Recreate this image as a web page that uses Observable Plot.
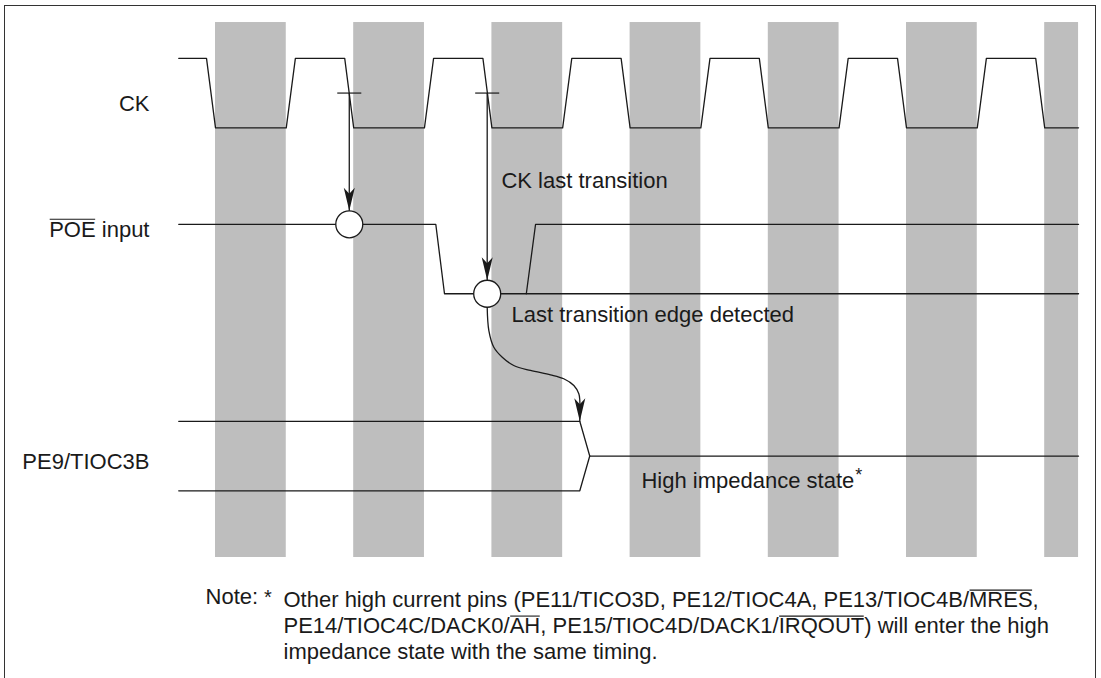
<!DOCTYPE html>
<html><head><meta charset="utf-8">
<script src="https://cdn.jsdelivr.net/npm/d3@7"></script>
<script src="https://cdn.jsdelivr.net/npm/@observablehq/plot@0.6"></script>
<style>
html,body{margin:0;padding:0;background:#fff;overflow:hidden;}
#chart{position:absolute;left:0;top:0;}
#frame{position:absolute;left:4px;top:5px;width:1092px;height:720px;border:1px solid #333;border-bottom:none;box-sizing:border-box;pointer-events:none;}
</style></head><body>
<div id="chart"></div><div id="frame"></div>
<script>
// ---------- data (time in CK cycles, t = 0 at end of first CK falling edge; levels 0/1) ----------
const ckTime  = [-0.266,-0.065,0,0.512,0.578,0.935,1,1.512,1.578,1.935,2,2.512,2.578,2.935,3,3.512,3.578,3.935,4,4.512,4.578,4.935,5,5.512,5.578,5.935,6,6.245];
const ckLevel = [1,1,0,0,1,1,0,0,1,1,0,0,1,1,0,0,1,1,0,0,1,1,0,0,1,1,0,0];
const lowPhaseStart = [0,1,2,3,4,5,6];
const lowPhaseEnd   = [0.512,1.512,2.512,3.512,4.512,5.512,6.245];
const poeTime  = [-0.266,1.594,1.657,6.245];
const poeLevel = [1,1,0,0];
const poeRiseTime  = [2.249,2.316,6.245];
const poeRiseLevel = [0,1,1];
const pe9UpperTime  = [-0.266,2.636,2.708,6.245];
const pe9UpperLevel = [1,1,0.5,0.5];
const pe9LowerTime  = [-0.266,2.636,2.708];
const pe9LowerLevel = [0,0,0.5];
const sampleTime  = [0.968,1.966];   // CK last-transition sampling instants
const sampleLevel = [1,0];           // POE level sampled
const signalNames = ["CK","POE input","PE9/TIOC3B"];
// detection path (absolute vertical units)
const pathTime = [1.966,1.978,2.014,2.075,2.158,2.279,2.424,2.520,2.593,2.629,2.636,2.636];
const pathU    = [2.642,2.306,2.066,1.922,1.803,1.731,1.669,1.612,1.515,1.396,1.300,1.0];
const annoText = ["CK last transition","Last transition edge detected","High impedance state*"];
const annoTime = [2.069,2.142,3.082];
const annoU    = [4.36,2.426,0.047];
const noteLines = [
  "Other high current pins (PE11/TICO3D, PE12/TIOC4A, PE13/TIOC4B/MRES,",
  "PE14/TIOC4C/DACK0/AH, PE15/TIOC4D/DACK1/IRQOUT) will enter the high",
  "impedance state with the same timing."
];
const overlined = ["POE","MRES","AH","IRQOUT"];

// ---------- layout ----------
const row = {CK: 5.223, POE: 2.835, PE9: 0};
const labelU = [5.472, 3.659, 0.317];
const labelT = -0.4776;
const bandTop = 6.738, bandBottom = -0.960;
const tickHalf = 0.087, circleR = 13.5;
const noteT = 0.492, noteLabelT = -0.072, noteStarT = 0.38, noteTopU = -1.412, noteBaseU = -1.636;
const ink = "#1a1a1a";
const FONT = 22;

const toPts = (T, L, base, id) => T.map((t, i) => ({t, u: base + L[i], id}));
const signals = [
  ...toPts(ckTime, ckLevel, row.CK, "ck"),
  ...toPts(poeTime, poeLevel, row.POE, "poe"),
  ...toPts(poeRiseTime, poeRiseLevel, row.POE, "poeRise"),
  ...toPts(pe9UpperTime, pe9UpperLevel, row.PE9, "pe9u"),
  ...toPts(pe9LowerTime, pe9LowerLevel, row.PE9, "pe9l")
];
const bands = lowPhaseStart.map((s, i) => ({x1: s, x2: lowPhaseEnd[i], y1: bandBottom, y2: bandTop}));
const samples = sampleTime.map((t, i) => ({t, uTick: row.CK + 0.5, u: row.POE + sampleLevel[i]}));
const path = pathTime.map((t, i) => ({t, u: pathU[i]}));
const labels = signalNames.map((s, i) => ({text: s, t: labelT, u: labelU[i]}));
const annos = annoText.map((s, i) => ({text: s, t: annoTime[i], u: annoU[i]}));

const arrowHead = {draw(ctx) { ctx.moveTo(0, 0); ctx.lineTo(-5.5, -23); ctx.lineTo(0, -17); ctx.lineTo(5.5, -23); ctx.closePath(); }};

const svg = Plot.plot({
  width: 1101, height: 678, margin: 0,
  x: {domain: [-1.5557, 6.411], axis: null},
  y: {domain: [-2.701, 7.055], axis: null},
  style: {fontFamily: "'Liberation Sans', Arial, Helvetica, sans-serif", background: "transparent", color: ink},
  marks: [
    Plot.rect(bands, {x1: "x1", x2: "x2", y1: "y1", y2: "y2", fill: "#bebebe"}),
    Plot.line(signals, {x: "t", y: "u", z: "id", stroke: ink, strokeWidth: 1.3}),
    Plot.link(samples, {x1: d => d.t - tickHalf, x2: d => d.t + tickHalf, y1: "uTick", y2: "uTick", stroke: ink, strokeWidth: 1.2}),
    Plot.link(samples, {x1: "t", x2: "t", y1: "uTick", y2: "u", stroke: ink, strokeWidth: 1.3}),
    Plot.line(path, {x: "t", y: "u", curve: "catmull-rom", stroke: ink, strokeWidth: 1.3}),
    Plot.dot(samples, {x: "t", y: "u", r: circleR, fill: "white", stroke: ink, strokeWidth: 1.3}),
    Plot.dot(samples, {x: "t", y: "u", dy: -circleR, r: 5, symbol: arrowHead, fill: ink, stroke: "none"}),
    Plot.dot([path[path.length - 1]], {x: "t", y: "u", r: 5, symbol: arrowHead, fill: ink, stroke: "none"}),
    Plot.text(labels, {x: "t", y: "u", text: "text", textAnchor: "end", lineAnchor: "bottom", fontSize: FONT, fill: ink}),
    Plot.text(annos, {x: "t", y: "u", text: "text", textAnchor: "start", lineAnchor: "bottom", fontSize: FONT, fill: ink}),
    Plot.text(["Note:"], {x: noteLabelT, y: noteBaseU, text: d => d, textAnchor: "start", lineAnchor: "bottom", fontSize: FONT, fill: ink}),
    Plot.text(["*"], {x: noteStarT, y: noteBaseU, text: d => d, textAnchor: "middle", lineAnchor: "bottom", fontSize: 20, fill: ink}),
    Plot.text([noteLines.join("\n")], {x: noteT, y: noteTopU, text: d => d, textAnchor: "start", lineAnchor: "top", lineHeight: 26 / FONT, fontSize: FONT, fill: ink})
  ]
});

document.getElementById("chart").appendChild(svg);

// overlined words (drawn as thin rules just above the capitals) and superscript asterisk
const SVGNS = "http://www.w3.org/2000/svg";
const splitRe = new RegExp("(" + overlined.join("|") + ")", "g");
const marked = [];
svg.querySelectorAll("text").forEach(text => {
  const tspans = text.querySelectorAll("tspan");
  const parts = tspans.length ? Array.from(tspans) : [text];
  parts.forEach(el => {
    const s = el.textContent;
    if (s === "High impedance state*") {
      el.textContent = "High impedance state";
      const sup = document.createElementNS(SVGNS, "tspan");
      sup.setAttribute("font-size", "18");
      sup.setAttribute("dy", "-7");
      sup.setAttribute("dx", "1");
      sup.textContent = "*";
      el.appendChild(sup);
      return;
    }
    if (!overlined.some(w => s.includes(w))) return;
    const pieces = s.split(splitRe);
    el.textContent = "";
    pieces.forEach(p => {
      if (!p) return;
      if (overlined.includes(p)) {
        const ts = document.createElementNS(SVGNS, "tspan");
        ts.textContent = p;
        el.appendChild(ts);
        marked.push({ts, text});
      } else {
        el.appendChild(document.createTextNode(p));
      }
    });
  });
});
marked.forEach(({ts, text}) => {
  const n = ts.getNumberOfChars();
  const a = ts.getStartPositionOfChar(0), b = ts.getEndPositionOfChar(n - 1);
  const line = document.createElementNS(SVGNS, "line");
  line.setAttribute("x1", a.x + 0.5); line.setAttribute("x2", b.x - 0.5);
  line.setAttribute("y1", a.y - 17.3); line.setAttribute("y2", a.y - 17.3);
  line.setAttribute("stroke", ink); line.setAttribute("stroke-width", "1.1");
  const tr = text.getAttribute("transform");
  if (tr) line.setAttribute("transform", tr);
  text.parentNode.appendChild(line);
});
</script>
</body></html>
